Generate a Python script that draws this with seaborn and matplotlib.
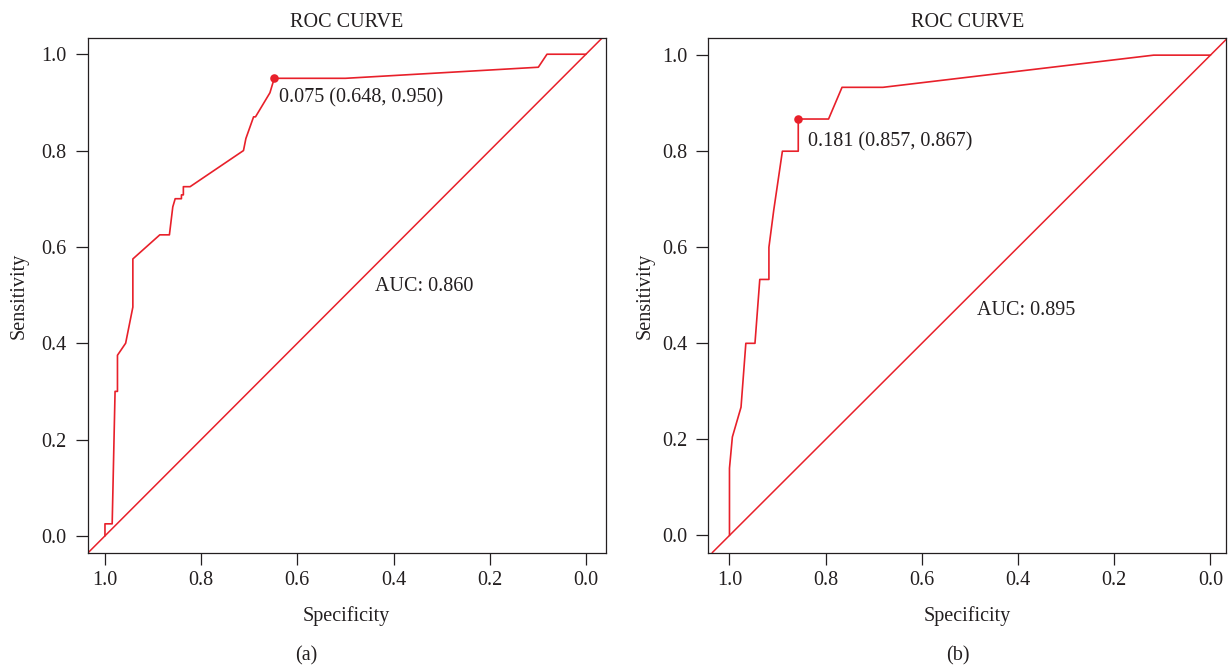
import matplotlib
matplotlib.use("Agg")
import matplotlib.pyplot as plt
import seaborn as sns
import pandas as pd

# ---- data ----
spec_a = [1.000, 1.000, 0.985, 0.979, 0.974, 0.974, 0.957, 0.942, 0.942, 0.886,
          0.866, 0.859, 0.854, 0.841, 0.841, 0.837, 0.837, 0.823, 0.712, 0.707,
          0.691, 0.687, 0.657, 0.648, 0.500, 0.099, 0.081, 0.000]
sens_a = [0.000, 0.025, 0.025, 0.300, 0.300, 0.375, 0.400, 0.475, 0.575, 0.625,
          0.625, 0.683, 0.700, 0.700, 0.708, 0.708, 0.725, 0.725, 0.800, 0.825,
          0.870, 0.870, 0.920, 0.950, 0.950, 0.973, 1.000, 1.000]
best_a = (0.648, 0.950)
thr_a = "0.075 (0.648, 0.950)"
auc_a = "AUC: 0.860"

spec_b = [1.000, 1.000, 0.994, 0.976, 0.966, 0.947, 0.937, 0.918, 0.918, 0.908,
          0.890, 0.857, 0.857, 0.794, 0.766, 0.681, 0.118, 0.000]
sens_b = [0.000, 0.140, 0.205, 0.267, 0.400, 0.400, 0.533, 0.533, 0.600, 0.677,
          0.800, 0.800, 0.867, 0.867, 0.933, 0.933, 1.000, 1.000]
best_b = (0.857, 0.867)
thr_b = "0.181 (0.857, 0.867)"
auc_b = "AUC: 0.895"

ticks = [1.0, 0.8, 0.6, 0.4, 0.2, 0.0]
tick_labels = ["1.0", "0.8", "0.6", "0.4", "0.2", "0.0"]
panel_labels = ["(a)", "(b)"]
title = "ROC CURVE"

RED = "#E8202A"
INK = "#231F20"

sns.set_theme(style="white")
plt.rcParams["font.family"] = ["Liberation Serif", "DejaVu Serif"]
plt.rcParams["text.color"] = INK
plt.rcParams["axes.labelcolor"] = INK
plt.rcParams["xtick.color"] = INK
plt.rcParams["ytick.color"] = INK

fig = plt.figure(figsize=(12.31, 6.69), dpi=100)
axA = fig.add_axes([0.0712, 0.1738, 0.4208, 0.7689])
axB = fig.add_axes([0.5754, 0.1738, 0.4208, 0.7689])

panels = [
    (axA, spec_a, sens_a, best_a, thr_a, auc_a, (1.036, -0.041), (-0.035, 1.033),
     (0.6374, 0.900), (0.4383, 0.508), -0.132),
    (axB, spec_b, sens_b, best_b, thr_b, auc_b, (1.044, -0.033), (-0.036, 1.035),
     (0.8377, 0.8105), (0.4847, 0.459), -0.122),
]

FS = 14.5
for ax, sx, sy, best, thr, auc, xl, yl, thr_pos, auc_pos, ylab_x in panels:
    df = pd.DataFrame({"Specificity": sx, "Sensitivity": sy})
    ax.axline((1.0, 0.0), (0.0, 1.0), color=RED, lw=1.1, zorder=2)
    sns.lineplot(data=df, x="Specificity", y="Sensitivity", sort=False,
                 estimator=None, color=RED, lw=1.2, ax=ax, zorder=3)
    sns.scatterplot(x=[best[0]], y=[best[1]], color=RED, s=38, edgecolor=RED,
                    linewidth=0, ax=ax, zorder=4)
    ax.text(thr_pos[0], thr_pos[1], thr, ha="left", va="baseline", fontsize=FS, color=INK)
    ax.text(auc_pos[0], auc_pos[1], auc, ha="left", va="baseline", fontsize=FS, color=INK)
    ax.set_xlim(*xl)
    ax.set_ylim(*yl)
    ax.set_xticks(ticks)
    ax.set_xticklabels(tick_labels)
    ax.set_yticks(ticks)
    ax.set_yticklabels(tick_labels)
    ax.tick_params(axis="both", direction="out", length=8.5, width=0.9,
                   labelsize=FS, color=INK, bottom=True, left=True)
    ax.tick_params(axis="x", pad=4.8)
    ax.tick_params(axis="y", pad=6.7)
    for sp in ax.spines.values():
        sp.set_visible(True)
        sp.set_color(INK)
        sp.set_linewidth(0.9)
    ax.set_title(title, fontsize=FS, pad=8.5, color=INK)
    ax.set_xlabel("Specificity", fontsize=FS)
    ax.set_ylabel("Sensitivity", fontsize=FS)
    ax.xaxis.label.set_verticalalignment("baseline")
    ax.xaxis.set_label_coords(0.5, -0.132)
    ax.yaxis.label.set_verticalalignment("center")
    ax.yaxis.set_label_coords(ylab_x, 0.5)
    ax.grid(False)

fig.text(306.7 / 1231, 1 - 655.7 / 669, panel_labels[0], ha="center", va="center", fontsize=FS)
fig.text(958 / 1231, 1 - 655.7 / 669, panel_labels[1], ha="center", va="center", fontsize=FS)

fig.savefig("out.png", dpi=100, facecolor="white")
